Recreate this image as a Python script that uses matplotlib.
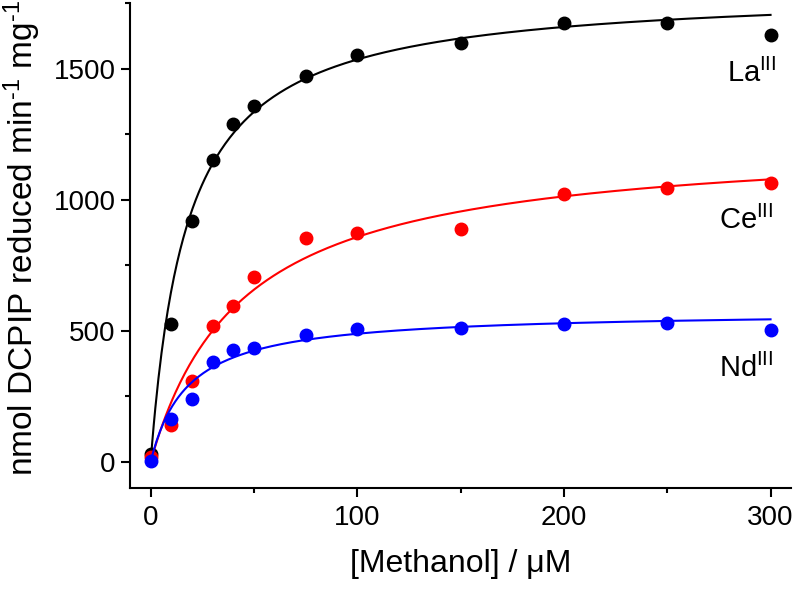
import matplotlib
matplotlib.use("Agg")
import matplotlib.pyplot as plt
import numpy as np

plt.rcParams["font.family"] = ["Liberation Sans", "DejaVu Sans"]
plt.rcParams["mathtext.fontset"] = "custom"
plt.rcParams["mathtext.rm"] = "Liberation Sans"
plt.rcParams["mathtext.it"] = "Liberation Sans:italic"

# Methanol concentration (uM)
methanol = [0, 10, 20, 30, 40, 50, 75, 100, 150, 200, 250, 300]

# Activity, nmol DCPIP reduced per min per mg
la_rate = [30, 524, 920, 1152, 1288, 1356, 1473, 1551, 1598, 1675, 1675, 1627]
ce_rate = [20, 141, 310, 517, 595, 705, 853, 872, 890, 1023, 1046, 1065]
nd_rate = [3, 164, 240, 380, 425, 436, 484, 507, 510, 525, 529, 501]

# Michaelis-Menten fit parameters (Vmax, Km)
la_fit = (1805, 17.6)
ce_fit = (1236, 44.1)
nd_fit = (576, 17.9)

labels = [r"La$^{\rm III}$", r"Ce$^{\rm III}$", r"Nd$^{\rm III}$"]
label_pos = [(279, 1449), (275, 888), (275, 324)]

fig = plt.figure(figsize=(8, 5.95), dpi=100)
ax = fig.add_axes([0.1625, 0.1798, 0.8265, 0.815])

xs = np.linspace(0, 300, 400)
series = [(la_rate, la_fit, "black"), (ce_rate, ce_fit, "#ff0000"), (nd_rate, nd_fit, "#0000ff")]
for rate, (vmax, km), col in series:
    ax.plot(xs, vmax * xs / (km + xs), color=col, lw=1.5)
    ax.plot(methanol, rate, "o", color=col, ms=9, mec=col)

for txt, (tx, ty) in zip(labels, label_pos):
    ax.text(tx, ty, txt, fontsize=21, ha="left", va="baseline")

ax.set_xlim(-10, 310)
ax.set_ylim(-100, 1750)
ax.set_xticks([0, 100, 200, 300])
ax.set_xticks([50, 150, 250], minor=True)
ax.set_yticks([0, 500, 1000, 1500])
ax.set_yticks([250, 750, 1250, 1750], minor=True)

ax.spines["top"].set_visible(False)
ax.spines["right"].set_visible(False)
for s in ["left", "bottom"]:
    ax.spines[s].set_linewidth(1.5)
ax.tick_params(which="major", direction="out", length=6.5, width=1.5, labelsize=20)
ax.tick_params(axis="y", which="major", pad=4)
ax.tick_params(axis="x", which="major", pad=6)
ax.tick_params(which="minor", direction="out", length=3.6, width=1.5)

ax.set_xlabel("[Methanol] / μM", fontsize=23, labelpad=13)
ax.set_ylabel(r"nmol DCPIP reduced min$^{\text{-1}}$ mg$^{\text{-1}}$", fontsize=24)
ax.yaxis.set_label_coords(-0.132, 0.515)

fig.savefig("out.png", dpi=100)
